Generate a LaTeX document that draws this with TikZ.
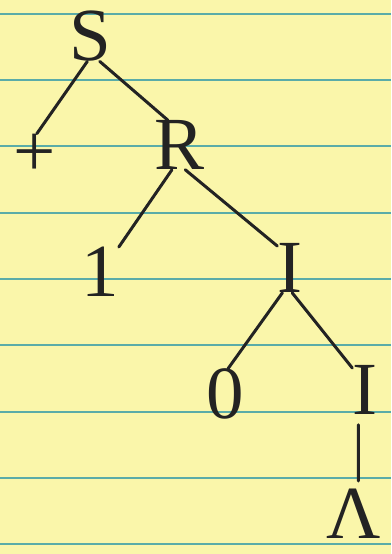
\documentclass[tikz,border=0pt]{standalone}
\usepackage{fontspec}
\setmainfont{Liberation Serif}
\usepackage{xcolor}
\usepackage{tikz}
\definecolor{paper}{RGB}{250,246,170}
\definecolor{rule}{RGB}{90,172,168}
\definecolor{ink}{RGB}{35,35,35}

\begin{document}
\begin{tikzpicture}[
    x=1pt, y=-1pt,
    sym/.style={inner sep=0pt, text=ink, font=\fontsize{75}{75}\selectfont},
    branch/.style={draw=ink, line width=3pt, line cap=round},
    ruling/.style={draw=rule, line width=2pt},
]
\fill[paper] (0,0) rectangle (391,554);
\useasboundingbox (0,0) rectangle (391,554);
\foreach \y in {14,80,146,213,279,345,412,478,544}
  \draw[ruling] (0,\y) -- (391,\y);

\node[sym] (s)    at (90,36)   {S};
\node[sym] (plus) at (35,155)  {+};
\node[sym] (r)    at (180,145) {R};
\node[sym] (one)  at (100,272) {1};
\node[sym] (ia)   at (290,268) {I};
\node[sym] (zero) at (225,394) {0};
\node[sym] (ib)   at (365,390) {I};
\node[sym] (lam)  at (354,514) {Λ};

\draw[branch] (s.-96)   -- (plus.85);
\draw[branch] (s.-69)   -- (r.116);
\draw[branch] (r.-108)  -- (one.53);
\draw[branch] (r.-78)   -- (ia.120);
\draw[branch] (ia.-107) -- (zero.83);
\draw[branch] (ia.-85)  -- (ib.120);
\draw[branch, shorten <=10pt, shorten >=8pt] (ib.-105) -- (lam.80);

\end{tikzpicture}
\end{document}
